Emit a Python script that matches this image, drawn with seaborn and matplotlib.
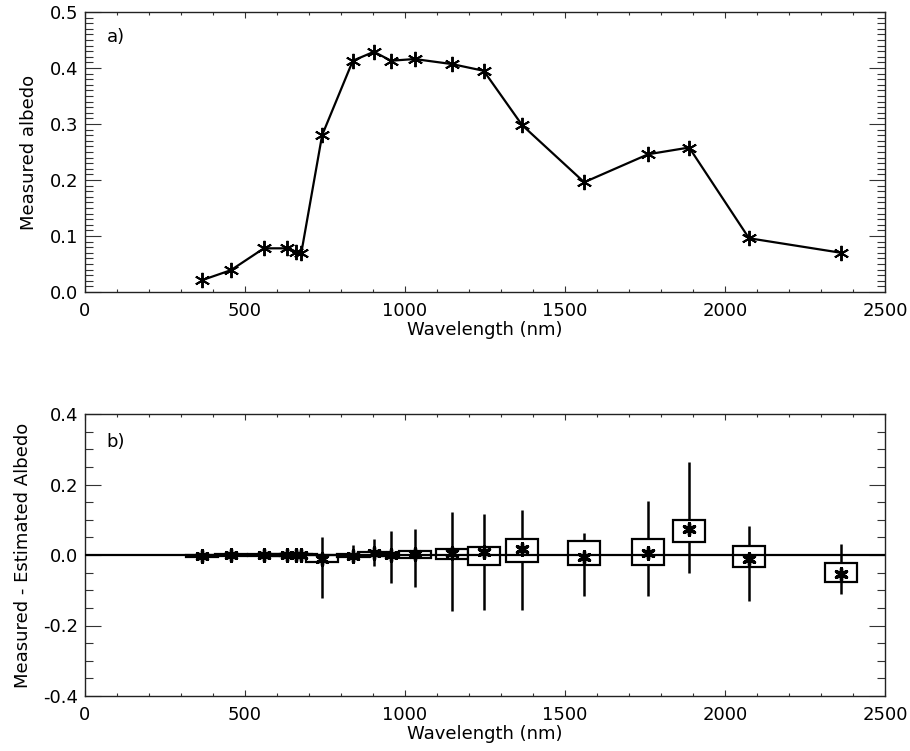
import numpy as np
import pandas as pd
import matplotlib
matplotlib.use("Agg")
import matplotlib.pyplot as plt
from matplotlib.ticker import MultipleLocator, FormatStrFormatter
import seaborn as sns

# ---------------- data ----------------
wavelength = [365, 456, 559, 630, 658, 676, 741, 837, 903, 956, 1030,
              1147, 1246, 1366, 1560, 1760, 1888, 2075, 2363]
albedo = [0.021, 0.039, 0.078, 0.078, 0.072, 0.070, 0.280, 0.413, 0.429,
          0.413, 0.416, 0.407, 0.395, 0.298, 0.196, 0.246, 0.258, 0.096, 0.070]

diff_mean = [-0.003, 0.001, 0.000, 0.001, 0.001, -0.001, -0.010, -0.003, 0.005,
             0.000, 0.002, 0.007, 0.008, 0.016, -0.005, 0.005, 0.073, -0.010, -0.055]
box_lo = [-0.006, -0.002, -0.003, -0.002, -0.002, -0.004, -0.021, -0.006, -0.002,
          -0.004, -0.008, -0.010, -0.028, -0.021, -0.029, -0.027, 0.038, -0.035, -0.078]
box_hi = [0.000, 0.003, 0.003, 0.003, 0.003, 0.002, 0.000, 0.002, 0.008,
          0.004, 0.012, 0.017, 0.022, 0.045, 0.040, 0.045, 0.100, 0.026, -0.022]
whisk_lo = [-0.006, -0.003, -0.004, -0.003, -0.003, -0.005, -0.121, -0.019, -0.030,
            -0.079, -0.092, -0.159, -0.155, -0.155, -0.117, -0.116, -0.052, -0.131, -0.111]
whisk_hi = [0.001, 0.004, 0.004, 0.004, 0.004, 0.003, 0.050, 0.027, 0.045,
            0.069, 0.073, 0.121, 0.117, 0.127, 0.062, 0.154, 0.265, 0.083, 0.031]

BOX_WIDTH = 100  # nm

df_a = pd.DataFrame({"wl": wavelength, "albedo": albedo})
df_b = pd.DataFrame({"wl": wavelength, "mean": diff_mean, "lo": box_lo, "hi": box_hi,
                     "wlo": whisk_lo, "whi": whisk_hi})

# ---------------- style ----------------
sns.set_style("ticks")
plt.rcParams["font.family"] = ["DejaVu Sans"]
plt.rcParams["axes.unicode_minus"] = False
plt.rcParams["text.color"] = "black"
plt.rcParams["axes.labelcolor"] = "black"
plt.rcParams["xtick.labelcolor"] = "black"
plt.rcParams["ytick.labelcolor"] = "black"
FS = 13

fig = plt.figure(figsize=(9.10, 7.51), dpi=100)
ax1 = fig.add_axes([85 / 910, 1 - 292 / 751, 800 / 910, 280 / 751])
ax2 = fig.add_axes([85 / 910, 1 - 696 / 751, 800 / 910, 282 / 751])

star = (6, 2, 0)

# Panel a
sns.lineplot(data=df_a, x="wl", y="albedo", ax=ax1, color="black", lw=1.6,
             sort=False, marker=star, markersize=11, markeredgewidth=1.4,
             markeredgecolor="black", markerfacecolor="black")

# Panel b
ax2.vlines(df_b["wl"], df_b["wlo"], df_b["whi"], color="black", lw=1.8, zorder=1)
ax2.bar(df_b["wl"], df_b["hi"] - df_b["lo"], bottom=df_b["lo"], width=BOX_WIDTH,
        facecolor="white", edgecolor="black", linewidth=1.6, zorder=2)
ax2.axhline(0.0, color="black", lw=1.6, zorder=3)
sns.scatterplot(data=df_b, x="wl", y="mean", ax=ax2, marker=star, s=70,
                color="black", edgecolor="black", linewidth=2.4, zorder=4)

for ax in (ax1, ax2):
    ax.set_xlim(0, 2500)
    ax.xaxis.set_major_locator(MultipleLocator(500))
    ax.xaxis.set_minor_locator(MultipleLocator(100))
    ax.set_xlabel("Wavelength (nm)", fontsize=FS, labelpad=1)
    ax.tick_params(which="both", direction="in", top=True, right=True,
                   labelsize=FS, width=0.8, color="#333333")
    ax.tick_params(axis="x", which="major", length=4.5, pad=7)
    ax.tick_params(axis="x", which="minor", length=2.3)
    ax.tick_params(axis="y", which="major", length=11.5, pad=5)
    ax.tick_params(axis="y", which="minor", length=5.8)
    for s in ax.spines.values():
        s.set_linewidth(1.0)
        s.set_color("#222222")

ax1.set_ylim(0, 0.5)
ax1.yaxis.set_major_locator(MultipleLocator(0.1))
ax1.yaxis.set_minor_locator(MultipleLocator(0.01))
ax1.yaxis.set_major_formatter(FormatStrFormatter("%.1f"))
ax1.set_ylabel("Measured albedo", fontsize=FS, labelpad=8)
ax1.text(0.027, 0.91, "a)", transform=ax1.transAxes, fontsize=FS, ha="left", va="center")

ax2.set_ylim(-0.4, 0.4)
ax2.yaxis.set_major_locator(MultipleLocator(0.2))
ax2.yaxis.set_minor_locator(MultipleLocator(0.05))
ax2.yaxis.set_major_formatter(FormatStrFormatter("%.1f"))
ax2.set_ylabel("Measured - Estimated Albedo", fontsize=FS, labelpad=8)
ax2.text(0.027, 0.90, "b)", transform=ax2.transAxes, fontsize=FS, ha="left", va="center")

fig.savefig("out.png", dpi=100)
